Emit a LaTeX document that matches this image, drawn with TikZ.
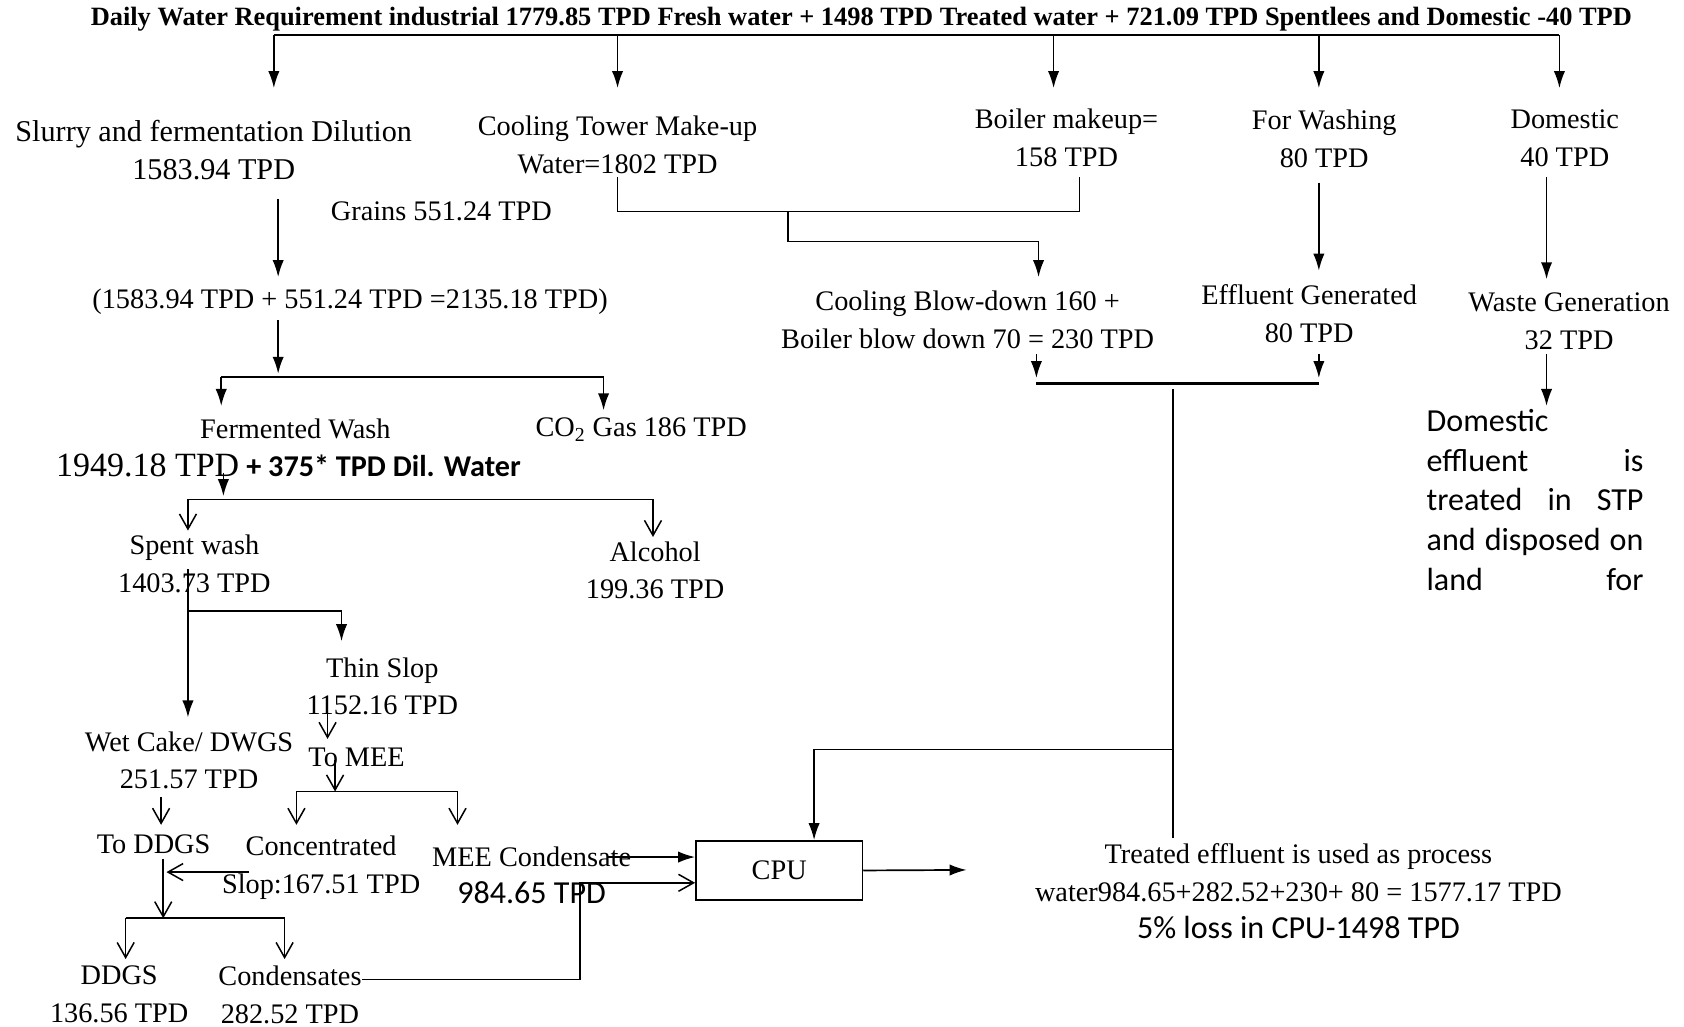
\documentclass[tikz,border=0pt]{standalone}
\usepackage{fontspec}
\setmainfont{Liberation Serif}
\newfontfamily\calib{Carlito}
\usepackage{tikz}
\usetikzlibrary{positioning, arrows.meta, calc}
\newcommand\spreadline[1]{\makebox[4.04cm][s]{#1}}
\tikzset{
  flowtext/.style={align=center, inner sep=0pt, font=\fontsize{15}{20}\selectfont},
  head/.style={inner sep=0pt, font=\bfseries\fontsize{14}{17}\selectfont},
  note/.style={align=left, inner sep=0pt, text width=4.04cm, font=\calib\fontsize{17}{21}\selectfont},
  unit/.style={rectangle, draw=black, line width=0.9pt, minimum width=3.1cm, minimum height=1.1cm, inner sep=0pt, font=\fontsize{15}{20}\selectfont},
  arrow/.style={line width=0.9pt,-{Latex[length=9pt,width=6pt]}},
  openarrow/.style={line width=0.8pt,-{Straight Barb[length=8pt,width=9pt]}},
  flow/.style={line width=0.9pt}
}

\begin{document}
\begin{tikzpicture}[x=0.02cm, y=-0.02cm]
        \useasboundingbox (0,0) rectangle (1568,956);

        % heading and first split
        \node (head) [head] at (802,18) {Daily Water Requirement industrial 1779.85 TPD Fresh water + 1498 TPD Treated water + 721.09 TPD Spentlees and Domestic -40 TPD};
        \node (slurry) [flowtext, font=\fontsize{16}{20}\selectfont] at (199,140) {Slurry and fermentation Dilution\\1583.94 TPD};
        \node (cooling) [flowtext] at (575,135) {Cooling Tower Make-up\\Water=1802 TPD};
        \node (boiler) [flowtext] at (993,128) {Boiler makeup=\\158 TPD};
        \node (washing) [flowtext] at (1233,129) {For Washing\\80 TPD};
        \node (domestic) [flowtext] at (1457,129) {Domestic\\40 TPD};

        % fermentation and distillation
        \node (grains) [flowtext] at (411,197) {Grains 551.24 TPD};
        \node (mix) [flowtext] at (326,281) {(1583.94 TPD + 551.24 TPD =2135.18 TPD)};
        \node (fwash) [flowtext] at (275,399) {Fermented Wash};
        \node (co2) [flowtext] at (597,400) {CO\textsubscript{2} Gas 186 TPD};
        \node (dilwater) [flowtext, anchor=west] at (52,433) {{\fontsize{18}{20}\selectfont 1949.18 TPD} {\calib\bfseries\fontsize{16}{20}\selectfont + 375* TPD Dil. Water}};
        \node (spent) [flowtext] at (181,525) {Spent wash\\1403.73 TPD};
        \node (alcohol) [flowtext] at (610,531) {Alcohol\\199.36 TPD};
        \node (thin) [flowtext] at (356,639) {Thin Slop\\1152.16 TPD};
        \node (wetcake) [flowtext] at (176,708) {Wet Cake/ DWGS\\251.57 TPD};
        \node (tomee) [flowtext] at (332,705) {To MEE};
        \node (toddgs) [flowtext] at (143,786) {To DDGS};
        \node (conc) [flowtext] at (299,808) {Concentrated\\Slop:167.51 TPD};
        \node (meec) [flowtext] at (495,815) {MEE Condensate\\{\calib\fontsize{17}{20}\selectfont 984.65 TPD}};
        \node (ddgs) [flowtext] at (111,926) {DDGS\\136.56 TPD};
        \node (condens) [flowtext] at (270,926) {Condensates\\282.52 TPD};
        \node (cpu) [unit] at (725.5,810.5) {CPU};

        % utilities and effluent
        \node (blow) [flowtext] at (901,298) {Cooling Blow-down 160 +\\Boiler blow down 70 = 230 TPD};
        \node (effgen) [flowtext] at (1219,292) {Effluent Generated\\80 TPD};
        \node (waste) [flowtext] at (1461,299) {Waste Generation\\32 TPD};
        \node (stp) [note, anchor=north west] at (1328,381) {Domestic\\\spreadline{effluent\hfill is}\\\spreadline{treated\hfill in\hfill STP}\\\spreadline{and\hfill disposed\hfill on}\\\spreadline{land\hfill for}};
        \node (treated) [flowtext] at (1209,830) {Treated effluent is used as process\\water984.65+282.52+230+ 80 = 1577.17 TPD\\{\calib\fontsize{17}{21}\selectfont 5\% loss in CPU-1498 TPD}};

        % junction points
        \coordinate (busL) at (255,33);
        \coordinate (busR) at (1452,33);
        \coordinate (sbus) at (175,465);
        \coordinate (mbus) at (312,737);
        \coordinate (dbus) at (152,855);
        \coordinate (ebus) at (965,357);
        \coordinate (etap) at (1092,698);
        \coordinate (ctap) at (734,197);

        \draw [flow, line width=1.1pt] (busL) -- (busR);
        \foreach \x in {255,575,981,1228,1452}
          \draw [arrow] (\x,33) -- (\x,82);

        \draw [arrow] (259,185) -- (259,258);
        \draw [arrow] (259,298) -- (259,348);
        \draw [flow] (206,351) -- (562,351);
        \draw [arrow] (206,351) -- (206,378);
        \draw [arrow] (562,351) -- (562,382);

        \draw [arrow] (208,440) -- (208,462);
        \draw [flow] (sbus) -- (608,465);
        \draw [openarrow] (sbus) -- (175,494);
        \draw [openarrow] (608,465) -- (608,500);

        \draw [arrow] (175,530) -- (175,668);
        \draw [arrow] (175,569) -| (318,597);
        \draw [openarrow] (305,660) -- (305,688);
        \draw [openarrow] (312,708) -- (mbus);
        \draw [flow] (276,737) -- (426,737);
        \draw [openarrow] (276,737) -- (276,768);
        \draw [openarrow] (426,737) -- (426,768);

        \draw [openarrow] (150,742) -- (150,768);
        \draw [openarrow] (232,812) -- (155,812);
        \draw [openarrow] (152,800) -- (dbus);
        \draw [flow] (117,855) -- (265,855);
        \draw [openarrow] (117,855) -- (117,893);
        \draw [openarrow] (265,855) -- (265,893);

        \draw [openarrow] (condens.east |- 0,912) -- (540,912) |- (cpu.west |- 0,822);
        \draw [arrow] (565,798) -- (cpu.west |- 0,798);
        \draw [arrow] (cpu.east) -- (900,810);

        \draw [flow] (575,165) |- (ctap) -| (1005,165);
        \draw [arrow] (ctap) -- (734,225) -| (967,258);
        \draw [arrow] (1228,170) -- (1228,252);
        \draw [arrow] (1440,165) -- (1440,260);
        \draw [arrow] (1440,330) -- (1440,378);

        \draw [arrow] (965,330) -- (965,352);
        \draw [arrow] (1228,330) -- (1228,352);
        \draw [flow, line width=1.8pt] (ebus) -- (1228,357);
        \draw [flow] (1092,362) -- (1092,780);
        \draw [arrow] (etap) -| (cpu.north -| 758,0);
\end{tikzpicture}
\end{document}
